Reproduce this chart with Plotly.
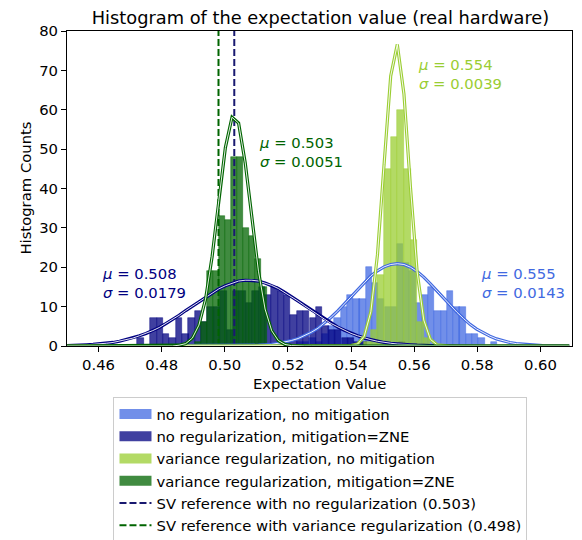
import plotly.graph_objects as go

# ---------------- data ----------------
# histogram: bin centres and counts
royal_centers = [0.5238, 0.5258, 0.5278, 0.5298, 0.5318, 0.5337, 0.5357, 0.5377, 0.5397, 0.5417,
                 0.5436, 0.5456, 0.5476, 0.5496, 0.5516, 0.5535, 0.5555, 0.5575, 0.5595, 0.5615,
                 0.5634, 0.5654, 0.5674, 0.5694, 0.5714, 0.5734, 0.5753, 0.5773, 0.5793, 0.5813,
                 0.5832, 0.5852]
royal_counts = [1, 1, 2, 1, 3, 5, 7, 10, 13, 12, 12, 20, 16, 12, 10, 10, 26, 21, 19, 11,
                13, 15, 9, 9, 14, 10, 10, 3, 3, 2, 0, 1]

navy_centers = [0.4733, 0.4753, 0.4774, 0.4794, 0.4814, 0.4834, 0.4854, 0.4875, 0.4895, 0.4915,
                0.4935, 0.4955, 0.4976, 0.4996, 0.5016, 0.5036, 0.5056, 0.5077, 0.5097, 0.5117,
                0.5137, 0.5157, 0.5178, 0.5198, 0.5218, 0.5238, 0.5258, 0.5279, 0.5299, 0.5319,
                0.5339, 0.5359, 0.5380, 0.5400, 0.5420, 0.5440, 0.5460, 0.5481, 0.5501, 0.5521,
                0.5541, 0.5561]
navy_counts = [2, 0, 7, 7, 3, 2, 7, 3, 7, 9, 6, 10, 10, 14, 4, 14, 14, 11, 14, 15,
               13, 15, 14, 13, 8, 9, 9, 7, 10, 5, 4, 4, 2, 2, 1, 1, 0, 0, 0, 0, 0, 1]

lime_centers = [0.5452, 0.5473, 0.5494, 0.5515, 0.5536, 0.5557, 0.5578, 0.5599, 0.5620, 0.5641]
lime_counts = [1, 4, 18, 45, 53, 60, 45, 27, 6, 2]

green_centers = [0.4916, 0.4935, 0.4954, 0.4973, 0.4992, 0.5011, 0.5030, 0.5049, 0.5068, 0.5087,
                 0.5106, 0.5125]
green_counts = [1, 6, 19, 19, 33, 32, 48, 48, 30, 28, 22, 15]

# fitted normal curves (sampled points)
curve_x = [0.44990, 0.45200, 0.45409, 0.45619, 0.45828, 0.46038, 0.46247, 0.46457, 0.46666, 0.46876,
           0.47085, 0.47295, 0.47504, 0.47714, 0.47923, 0.48133, 0.48342, 0.48552, 0.48761, 0.48971,
           0.49180, 0.49390, 0.49599, 0.49809, 0.50018, 0.50228, 0.50437, 0.50647, 0.50856, 0.51066,
           0.51275, 0.51485, 0.51694, 0.51904, 0.52113, 0.52323, 0.52532, 0.52742, 0.52951, 0.53161,
           0.53370, 0.53580, 0.53789, 0.53999, 0.54208, 0.54418, 0.54627, 0.54837, 0.55046, 0.55256,
           0.55465, 0.55675, 0.55884, 0.56094, 0.56303, 0.56513, 0.56722, 0.56932, 0.57141, 0.57351,
           0.57560, 0.57770, 0.57979, 0.58189, 0.58398, 0.58608, 0.58817, 0.59027, 0.59236, 0.59446,
           0.59655, 0.59865, 0.60074, 0.60284, 0.60493, 0.60703, 0.60912]
royal_curve = [0.0] * 27 + [0.1, 0.1, 0.2, 0.3, 0.4, 0.7, 1.0, 1.4, 1.9, 2.6, 3.5, 4.5, 5.8, 7.3, 8.9,
                            10.7, 12.5, 14.4, 16.1, 17.8, 19.1, 20.1, 20.7, 20.9, 20.7, 20.0, 18.9, 17.5,
                            15.8, 14.0, 12.2, 10.3, 8.6, 7.0, 5.5, 4.3, 3.3, 2.5, 1.8, 1.3, 0.9, 0.6, 0.4,
                            0.3, 0.2, 0.1, 0.1] + [0.0] * 3
navy_curve = [0.1, 0.1, 0.2, 0.3, 0.4, 0.5, 0.7, 0.9, 1.2, 1.6, 2.0, 2.6, 3.2, 3.9, 4.7, 5.7, 6.7, 7.8,
              9.0, 10.1, 11.3, 12.5, 13.5, 14.5, 15.3, 16.0, 16.5, 16.7, 16.7, 16.5, 16.0, 15.4, 14.6,
              13.6, 12.5, 11.4, 10.2, 9.0, 7.9, 6.8, 5.7, 4.8, 4.0, 3.2, 2.6, 2.0, 1.6, 1.2, 0.9, 0.7,
              0.5, 0.4, 0.3, 0.2, 0.1, 0.1, 0.1] + [0.0] * 20
lime_curve = [0.0] * 43 + [0.1, 0.5, 2.5, 8.7, 23.2, 46.1, 68.6, 76.6, 64.0, 40.1, 18.8, 6.6, 1.7,
                           0.3, 0.1] + [0.0] * 19
green_curve = [0.0] * 17 + [0.2, 0.6, 2.0, 5.3, 11.9, 22.8, 36.9, 50.4, 58.1, 56.6, 46.5, 32.4, 19.0,
                            9.4, 3.9, 1.4, 0.4, 0.1] + [0.0] * 42

sv_ref = [0.503, 0.498]
x_ticks = [0.46, 0.48, 0.50, 0.52, 0.54, 0.56, 0.58, 0.60]
x_ticklabels = ["0.46", "0.48", "0.50", "0.52", "0.54", "0.56", "0.58", "0.60"]
y_ticks = [0, 10, 20, 30, 40, 50, 60, 70, 80]

# ---------------- styling ----------------
C = {"royal": (65, 105, 225), "navy": (0, 0, 128), "lime": (154, 205, 50), "green": (0, 100, 0)}


def rgba(c, a):
    return f"rgba({c[0]},{c[1]},{c[2]},{a})"


FONT = "DejaVu Sans"
FS = 14.8
W, H = 574, 532  # page body adds an 8px offset; figure sized so it fits the 582x540 window

fig = go.Figure()
hist = [
    ("royal", royal_centers, royal_counts, 0.00198, "no regularization, no mitigation"),
    ("navy", navy_centers, navy_counts, 0.00202, "no regularization, mitigation=ZNE"),
    ("lime", lime_centers, lime_counts, 0.0021, "variance regularization, no mitigation"),
    ("green", green_centers, green_counts, 0.0019, "variance regularization, mitigation=ZNE"),
]
for key, xc, yc, w, name in hist:
    fig.add_trace(go.Bar(x=xc, y=yc, width=w, name=name, legendgroup=key, showlegend=False,
                         marker=dict(color=rgba(C[key], 0.75),
                                     line=dict(width=0.6, color=rgba(C[key], 0.75)))))
# legend patches (wide rectangles as in the reference legend)
for key, xc, yc, w, name in hist:
    fig.add_trace(go.Scatter(x=[None], y=[None], mode="lines", name=name, legendgroup=key,
                             line=dict(color=rgba(C[key], 0.75), width=14)))

fig.add_trace(go.Scatter(x=[sv_ref[0], sv_ref[0]], y=[0, 80], mode="lines",
                         name="SV reference with no regularization (0.503)",
                         line=dict(color="#191970", width=2, dash="7px,3px")))
fig.add_trace(go.Scatter(x=[sv_ref[1], sv_ref[1]], y=[0, 80], mode="lines",
                         name="SV reference with variance regularization (0.498)",
                         line=dict(color="#006400", width=2, dash="7px,3px")))

for key, yc in [("royal", royal_curve), ("navy", navy_curve), ("lime", lime_curve), ("green", green_curve)]:
    fig.add_trace(go.Scatter(x=curve_x, y=yc, mode="lines", showlegend=False, hoverinfo="skip",
                             line=dict(color=rgba(C[key], 1), width=3.2)))
    fig.add_trace(go.Scatter(x=curve_x, y=yc, mode="lines", showlegend=False, hoverinfo="skip",
                             line=dict(color="white", width=0.9)))

annots = [
    (0.4605, 16.1, "<i>μ</i> = 0.508<br><i>σ</i> = 0.0179", "navy"),
    (0.5103, 49.3, "<i>μ</i> = 0.503<br><i>σ</i> = 0.0051", "green"),
    (0.5605, 69.1, "<i>μ</i> = 0.554<br><i>σ</i> = 0.0039", "lime"),
    (0.5805, 16.0, "<i>μ</i> = 0.555<br><i>σ</i> = 0.0143", "royal"),
]
for x, y, t, key in annots:
    fig.add_annotation(x=x, y=y, text=t, showarrow=False, xanchor="left", yanchor="middle", align="left",
                       font=dict(family=FONT, size=FS, color=rgba(C[key], 1)))

fig.add_annotation(text="Histogram Counts", xref="paper", yref="paper", x=-0.083, y=0.5, textangle=-90,
                   showarrow=False, xanchor="center", yanchor="middle",
                   font=dict(family=FONT, size=FS, color="black"))
fig.add_annotation(text="Expectation Value", xref="paper", yref="paper", x=0.5, y=-0.118,
                   showarrow=False, xanchor="center", yanchor="middle",
                   font=dict(family=FONT, size=FS, color="black"))

ax = dict(showline=True, mirror=True, linecolor="black", linewidth=1, ticks="outside", ticklen=5,
          tickcolor="black", tickwidth=1, showgrid=False, zeroline=False, automargin=False,
          tickfont=dict(family=FONT, size=FS, color="black"))
fig.update_layout(
    width=W, height=H, margin=dict(l=59, r=10, t=23, b=194, autoexpand=False),
    paper_bgcolor="white", plot_bgcolor="white", barmode="overlay", bargap=0,
    font=dict(family=FONT, size=FS, color="black"),
    title=dict(text="Histogram of the expectation value (real hardware)", x=0.5444, xanchor="center",
               y=0.9815, yanchor="middle", font=dict(family=FONT, size=17.8, color="black")),
    xaxis=dict(range=[0.45, 0.61], tickvals=x_ticks, ticktext=x_ticklabels, **ax),
    yaxis=dict(range=[0, 80], tickvals=y_ticks, **ax),
    legend=dict(xref="container", yref="container", x=0.5444, xanchor="center", y=0.2688, yanchor="top",
                bordercolor="#cccccc", borderwidth=1, bgcolor="white", itemwidth=32, tracegroupgap=0,
                font=dict(family=FONT, size=FS, color="black")),
)
fig.write_html("out.html")
